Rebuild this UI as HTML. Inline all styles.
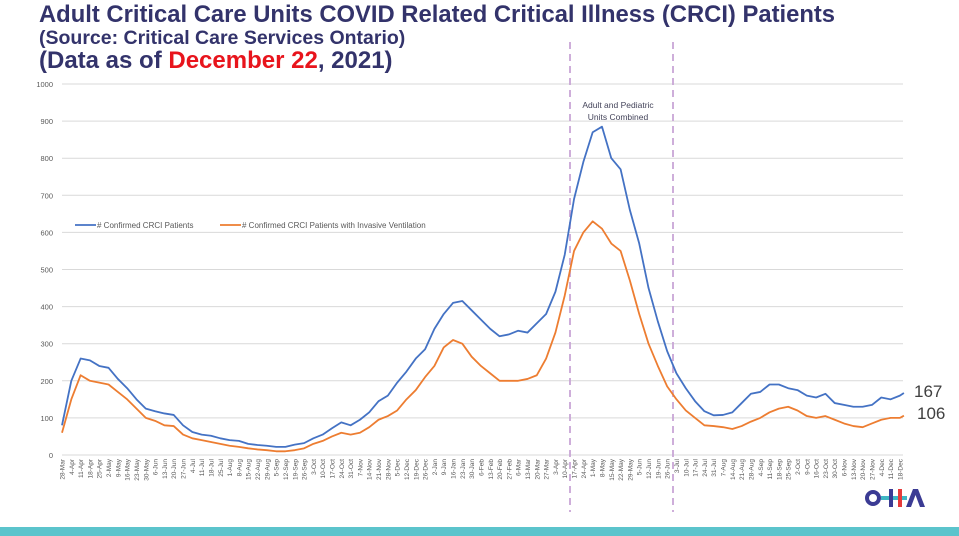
<!DOCTYPE html>
<html><head><meta charset="utf-8"><style>
body{margin:0;width:959px;height:536px;overflow:hidden;background:#fff;font-family:"Liberation Sans",sans-serif;position:relative}
.t{position:absolute;left:39px;color:#33336b;font-weight:bold;white-space:nowrap}
</style></head><body>
<div class="t" style="top:1px;font-size:23.8px">Adult Critical Care Units COVID Related Critical Illness (CRCI) Patients</div>
<div class="t" style="top:27px;font-size:19.5px">(Source: Critical Care Services Ontario)</div>
<div class="t" style="top:47px;font-size:24px">(Data as of <span style="color:#e8141c">December 22</span>, 2021)</div>
<svg id="c" width="959" height="536" style="position:absolute;left:0;top:0"></svg>
<div style="position:absolute;left:0;top:527px;width:959px;height:9px;background:#5bc4cc"></div>
<script>
const weeks=["28-Mar","4-Apr","11-Apr","18-Apr","25-Apr","2-May","9-May","16-May","23-May","30-May","6-Jun","13-Jun","20-Jun","27-Jun","4-Jul","11-Jul","18-Jul","25-Jul","1-Aug","8-Aug","15-Aug","22-Aug","29-Aug","5-Sep","12-Sep","19-Sep","26-Sep","3-Oct","10-Oct","17-Oct","24-Oct","31-Oct","7-Nov","14-Nov","21-Nov","28-Nov","5-Dec","12-Dec","19-Dec","26-Dec","2-Jan","9-Jan","16-Jan","23-Jan","30-Jan","6-Feb","13-Feb","20-Feb","27-Feb","6-Mar","13-Mar","20-Mar","27-Mar","3-Apr","10-Apr","17-Apr","24-Apr","1-May","8-May","15-May","22-May","29-May","5-Jun","12-Jun","19-Jun","26-Jun","3-Jul","10-Jul","17-Jul","24-Jul","31-Jul","7-Aug","14-Aug","21-Aug","28-Aug","4-Sep","11-Sep","18-Sep","25-Sep","2-Oct","9-Oct","16-Oct","23-Oct","30-Oct","6-Nov","13-Nov","20-Nov","27-Nov","4-Dec","11-Dec","18-Dec"];
const confirmed=[80,200,260,255,240,235,205,180,150,125,118,112,108,80,62,55,52,45,40,38,30,27,25,22,22,28,32,45,55,72,88,80,95,115,145,160,195,225,260,285,340,380,410,415,390,365,340,320,325,335,330,355,380,440,540,690,790,870,885,800,770,660,570,450,360,280,220,180,145,118,107,108,115,140,165,170,190,190,180,175,160,155,165,140,135,130,130,135,155,150,160,167];
const ventilated=[60,150,215,200,195,190,170,150,125,100,92,80,78,55,45,40,35,30,25,22,18,15,13,10,10,13,18,30,38,50,60,55,60,75,95,105,120,150,175,210,240,290,310,300,265,240,220,200,200,200,205,215,260,330,430,550,600,630,610,570,550,470,380,300,240,185,150,120,100,80,78,75,70,78,90,100,115,125,130,120,105,100,105,95,85,78,75,85,95,100,100,106];
const yTicks=[0,100,200,300,400,500,600,700,800,900,1000];
const NS="http://www.w3.org/2000/svg",svg=document.getElementById('c');
const x0=62,dx=9.31,y0=455,ky=0.371;
const X=i=>x0+i*dx, Y=v=>y0-v*ky;
function mk(t,a,p){const e=document.createElementNS(NS,t);for(const k in a)e.setAttribute(k,a[k]);(p||svg).appendChild(e);return e;}
yTicks.forEach(v=>{
 const l=mk('line',{x1:x0,x2:903,y1:Y(v),y2:Y(v),stroke:'#d9d9d9','stroke-width':1});
 
 
 const t=mk('text',{x:53,y:Y(v)+3,'text-anchor':'end','font-size':7.5,fill:'#595959'});
 t.textContent=v;
 
 
});
weeks.forEach((w,i)=>{
 const t=mk('text',{transform:`translate(${X(i)+2.5},${459}) rotate(-90)`,'text-anchor':'end','font-size':6.5,fill:'#595959'});
 t.textContent=w;
 
 
});
[570,673].forEach((x,k)=>{
 const l=mk('line',{x1:x,x2:x,y1:42,y2:512,stroke:'#c9a6d6','stroke-width':1.8,'stroke-dasharray':'7,5'});
 
 
});
const a1=mk('text',{x:618,y:108,'text-anchor':'middle','font-size':8.5,fill:'#44445a'});a1.textContent='Adult and Pediatric';


const a2=mk('text',{x:618,y:120,'text-anchor':'middle','font-size':8.5,fill:'#44445a'});a2.textContent='Units Combined';


function series(d,c,name){
 const n=d.length;const pts=d.map((v,i)=>`${i===n-1?X(n-2)+4:X(i)},${Y(v)}`).join(' ');
 const p=mk('polyline',{points:pts,fill:'none',stroke:c,'stroke-width':1.8,'stroke-linejoin':'round'});
 
 
}
series(ventilated,'#ed7d31','ventilated-line');
series(confirmed,'#4472c4','confirmed-line');
function leg(x,c,txt,name){
 const g=mk('g',{});
 
 
 mk('line',{x1:x,x2:x+21,y1:225,y2:225,stroke:c,'stroke-width':1.8},g);
 const t=mk('text',{x:x+22,y:228,'font-size':8,fill:'#595959'},g);t.textContent=txt;
}
leg(75,'#4472c4','# Confirmed CRCI Patients','legend-confirmed');
leg(220,'#ed7d31','# Confirmed CRCI Patients with Invasive Ventilation','legend-ventilated');
const l1=mk('text',{x:914,y:397,'font-size':17,fill:'#404040'});l1.textContent=confirmed[confirmed.length-1];


const l2=mk('text',{x:917,y:419,'font-size':17,fill:'#404040'});l2.textContent=ventilated[ventilated.length-1];


const g=mk('g',{});


mk('circle',{cx:873,cy:498,r:6,fill:'none',stroke:'#3b3b94','stroke-width':4},g);
mk('rect',{x:881,y:496,width:26,height:4,fill:'#3fb6c4'},g);
mk('rect',{x:889,y:489,width:4,height:18,fill:'#3b3b94'},g);
mk('rect',{x:898,y:489,width:4,height:18,fill:'#e63a3a'},g);
mk('path',{d:'M906 507 L913 489 L918 489 L925 507 L920 507 L915.5 495 L911 507Z',fill:'#3b3b94'},g);
</script>
</body></html>
